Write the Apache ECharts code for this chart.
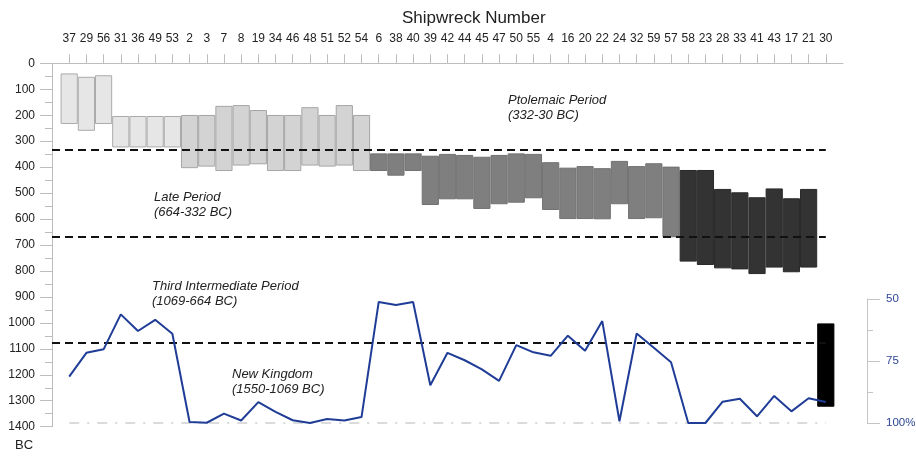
<!DOCTYPE html>
<html>
<head>
<meta charset="utf-8">
<script src="https://cdn.jsdelivr.net/npm/echarts@6/dist/echarts.min.js"></script>
<style>
html,body{margin:0;padding:0;background:#fff;}
#chart{width:916px;height:457px;}
</style>
</head>
<body>
<div id="chart"></div>
<script>
// Shipwreck numbers (top axis categories)
const categories = ['37','29','56','31','36','49','53','2','3','7','8','19','34','46','48','51','52','54','6','38','40','39','42','44','45','47','50','55','4','16','20','22','24','32','59','57','58','23','28','33','41','43','17','21','30'];
// Date range of each wreck (years BC): latest (top) and earliest (bottom)
const latestBC = [39,52,46,203,203,203,203,199,199,164,161,180,199,199,169,199,161,199,347,347,347,356,349,353,360,353,347,349,381,402,396,404,376,396,385,398,411,411,484,497,516,482,520,484,1002];
const earliestBC = [234,260,234,324,324,324,324,404,398,415,394,389,415,415,394,398,394,415,415,433,415,546,524,524,561,543,537,520,565,600,600,601,543,600,597,670,764,777,790,794,812,787,805,787,1323];
// Group of each wreck (0..4), used to pick the shade
const groupOf = [0,0,0,0,0,0,0,1,1,1,1,1,1,1,1,1,1,1,2,2,2,2,2,2,2,2,2,2,2,2,2,2,2,2,2,2,3,3,3,3,3,3,3,3,4];
// Percentage curve (right axis)
const percent = [81.3,71.7,70.3,56.2,62.9,58.4,64.0,99.6,99.9,96.2,99.0,91.6,95.5,98.9,100,98.4,99.0,97.6,51.2,52.4,51.2,84.8,71.7,74.7,78.4,83.0,68.6,71.5,72.9,64.8,70.9,58.9,99.3,63.9,69.7,75.5,100,100,91.4,90.2,97.3,89.1,95.3,90.0,91.5];
// Period boundaries (years BC)
const periodBounds = [334, 670, 1076];
// Left axis ticks
const yMin = 0, yMax = 1400, yStep = 100;
// Right axis ticks
const pMin = 50, pMax = 100, pStep = 25;
const periodLabels = [
  {text:'Ptolemaic Period\n(332-30 BC)', x:508, y:93},
  {text:'Late Period\n(664-332 BC)', x:154, y:190},
  {text:'Third Intermediate Period\n(1069-664 BC)', x:152, y:279},
  {text:'New Kingdom\n(1550-1069 BC)', x:232, y:367}
];

const fills = ['#e6e6e6','#d3d3d3','#7f7f7f','#333333','#000000'];
const borders = ['#ababab','#a6a6a6','#727272','#2a2a2a','#000000'];

const axisCats = [''].concat(categories, ['']);
const pad = v => ['-'].concat(v, ['-']);

const baseData = pad(latestBC);
const spanData = pad(categories.map((c, i) => ({
  value: earliestBC[i] - latestBC[i],
  itemStyle: {color: fills[groupOf[i]], borderColor: borders[groupOf[i]], borderWidth: 1}
})));
const lineData = pad(percent);
const lastIdx = categories.length; // index of last real category in axisCats

const chart = echarts.init(document.getElementById('chart'), null, {renderer:'canvas'});
const fontFam = '"Liberation Sans", Arial, sans-serif';
chart.setOption({
  animation: false,
  textStyle: {fontFamily: fontFam},
  title: {text:'Shipwreck Number', left:397, top:5, textStyle:{fontSize:17, fontWeight:'normal', color:'#222', fontFamily: fontFam}},
  grid: [
    {left:52, right:73, top:63.3, bottom:30.3, outerBoundsMode:'none', containLabel:false},
    {left:52, right:73, top:299, bottom:34, outerBoundsMode:'none', containLabel:false}
  ],
  xAxis: [
    {type:'category', gridIndex:0, position:'top', data: axisCats, boundaryGap:false,
     axisLine:{lineStyle:{color:'#bdbdbd'}},
     axisTick:{length:9, lineStyle:{color:'#bdbdbd'}, interval:(i, v) => v !== ''},
     axisLabel:{interval:0, fontSize:12, color:'#222', margin:19},
     splitLine:{show:false}},
    {type:'category', gridIndex:1, data: axisCats, boundaryGap:false, show:false}
  ],
  yAxis: [
    {type:'value', gridIndex:0, min:yMin, max:yMax, interval:yStep, inverse:true,
     axisLine:{show:true, lineStyle:{color:'#bdbdbd'}},
     axisTick:{show:true, length:12, lineStyle:{color:'#bdbdbd'}},
     minorTick:{show:true, splitNumber:2, length:7, lineStyle:{color:'#bdbdbd'}},
     splitLine:{show:false},
     axisLabel:{fontSize:12, color:'#222', margin:17, formatter: v => String(v)}},
    {type:'value', gridIndex:1, position:'right', offset:24, min:pMin, max:pMax, interval:pStep, inverse:true,
     axisLine:{show:true, lineStyle:{color:'#c4c4c4'}},
     axisTick:{show:true, length:13, lineStyle:{color:'#c4c4c4'}},
     minorTick:{show:true, splitNumber:2, length:6, lineStyle:{color:'#c4c4c4'}},
     splitLine:{show:false},
     axisLabel:{fontSize:11.5, color:'#2d4694', margin:19, formatter: v => v === pMax ? v + '%' : String(v)}}
  ],
  series: [
    {type:'bar', xAxisIndex:0, yAxisIndex:0, stack:'range', data: baseData, barWidth:'100%',
     itemStyle:{color:'rgba(0,0,0,0)'}, silent:true},
    {type:'bar', xAxisIndex:0, yAxisIndex:0, stack:'range', data: spanData, barWidth:'100%',
     markLine:{silent:true, symbol:'none', label:{show:false},
       lineStyle:{color:'#111', type:[8,5], width:2},
       data: periodBounds.map(b => [{coord:[0, b]}, {coord:[lastIdx + 0.25, b]}])}},
    {type:'line', xAxisIndex:1, yAxisIndex:1, data: lineData, symbol:'none',
     lineStyle:{color:'#1f3c96', width:2}, z:5,
     markLine:{silent:true, symbol:'none', label:{show:false},
       lineStyle:{color:'#cfcfcf', type:[10,8,2,8], width:1.5},
       data:[[{coord:[1, pMax]}, {coord:[lastIdx, pMax]}]]}}
  ],
  graphic: periodLabels.map(p => ({type:'text', left:p.x, top:p.y,
      style:{text:p.text, font:'italic 13px ' + fontFam, fill:'#222', lineHeight:15}}))
    .concat([{type:'text', left:15, top:439, style:{text:'BC', font:'13px ' + fontFam, fill:'#222'}}])
});
</script>
</body>
</html>
